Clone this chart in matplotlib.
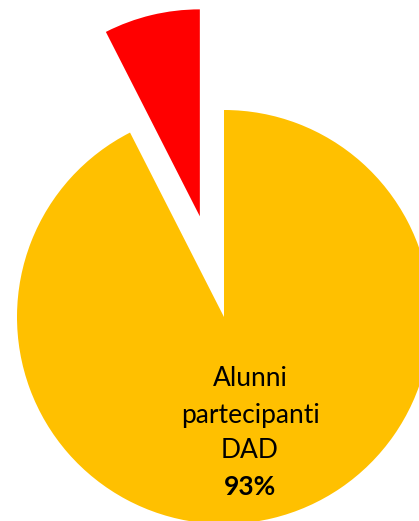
import matplotlib
matplotlib.use("Agg")
import matplotlib.pyplot as plt

categories = ["Alunni partecipanti DAD", "Alunni non partecipanti"]
values = [92.5, 7.5]
colors = ["#FFC000", "#FF0000"]
explode = [0, 0.5]
label_lines = ["Alunni", "partecipanti", "DAD"]
pct_label = "93%"

W, H = 419, 521
fig = plt.figure(figsize=(W / 100, H / 100), dpi=100)
ax = fig.add_axes([0, 0, 1, 1])
ax.pie(values, colors=colors, explode=explode, startangle=90,
       counterclock=False, radius=1, wedgeprops=dict(linewidth=0))

R = 207.0
cx, cy = 224.0, 317.0
ax.set_xlim(-cx / R, (W - cx) / R)
ax.set_ylim(-(H - cy) / R, cy / R)
ax.set_aspect('auto')
ax.axis('off')

def py(y):
    return (cy - y) / R

tx = (250 - cx) / R
ys = [379, 415, 450]
for t, y in zip(label_lines, ys):
    ax.text(tx, py(y), t, ha='center', va='center', fontsize=19,
            family='Lato', color='black')
ax.text(tx, py(487), pct_label, ha='center', va='center', fontsize=19,
        family='Lato', fontweight='bold', color='black')

fig.savefig("out.png", dpi=100)
